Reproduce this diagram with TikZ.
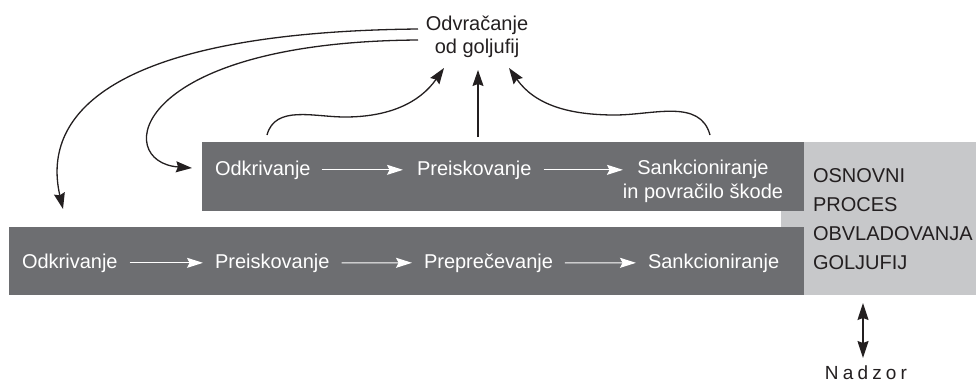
\documentclass[tikz,border=0pt]{standalone}
\usepackage{fontspec}
\setmainfont{Liberation Sans}
\usetikzlibrary{arrows.meta}
\definecolor{boxdark}{HTML}{6D6E71}
\definecolor{boxlight}{HTML}{C7C8CA}
\definecolor{ink}{HTML}{231F20}
\begin{document}
\begin{tikzpicture}[x=0.5pt,y=-0.5pt,
  every node/.style={inner sep=0pt, outer sep=0pt, font=\fontsize{10}{11.5}\selectfont, text=ink},
  panel/.style={anchor=north west, draw=none, minimum width=#1},
  wtext/.style={text=white, anchor=base west},
  warrow/.style={draw=white, line width=0.55pt, -{Stealth[length=8pt,width=5pt,inset=1.3pt]}},
  barrow/.style={draw=ink, line width=0.65pt, -{Stealth[length=8pt,width=5.5pt,inset=1pt]}},
  darrow/.style={draw=ink, line width=0.65pt, {Stealth[length=8.5pt,width=5.5pt,inset=1pt]}-{Stealth[length=8.5pt,width=5.5pt,inset=1pt]}}
]
\useasboundingbox (0,0) rectangle (976,381);

% panels
\node[panel=97.5pt, fill=boxlight, minimum height=76.5pt] (lightbox) at (781,142) {};
\node[panel=301pt, fill=boxdark, minimum height=34.5pt] (topbox) at (202,142) {};
\node[panel=397.5pt, fill=boxdark, minimum height=34pt] (botbox) at (9,227) {};

% top row
\node[wtext] (t1) at (215,175) {Odkrivanje};
\node[wtext] (t2) at (417,175) {Preiskovanje};
\node[text=white, align=center, anchor=base, font=\fontsize{10}{12}\selectfont] (t3) at (703,198) {Sankcioniranje\\in povračilo škode};
\coordinate (t3in) at (t3.west |- t2.east);
\draw[warrow, shorten <=5.5pt, shorten >=7pt] (t1.east) -- (t2.west);
\draw[warrow, shorten <=6pt] (t2.east) -- (t3in);

% bottom row
\node[wtext] (b1) at (22,268) {Odkrivanje};
\node[wtext] (b2) at (215,268) {Preiskovanje};
\node[wtext] (b3) at (424,268) {Preprečevanje};
\node[wtext] (b4) at (648,268) {Sankcioniranje};
\draw[warrow, shorten <=6pt, shorten >=6pt] (b1.east) -- (b2.west);
\draw[warrow, shorten <=6pt, shorten >=6pt] (b2.east) -- (b3.west);
\draw[warrow, shorten <=6pt, shorten >=6pt] (b3.east) -- (b4.west);

% light box text
\node[align=left, anchor=base west, font=\fontsize{10}{14.5}\selectfont] (proc) at (813,269) {OSNOVNI\\PROCES\\OBVLADOVANJA\\GOLJUFIJ};

% deterrence
\node[align=center, anchor=base] (odv) at (477,53) {Odvračanje\\od goljufij};

\coordinate (sOuter) at (418,29);
\coordinate (sInner) at (418,40);
\coordinate (eOuter) at (63,209);
\coordinate (eInner) at (192,168);
\coordinate (u1) at (267,135);
\coordinate (u2) at (478,137);
\coordinate (u3) at (710,135);
\coordinate (v1) at (444,68);
\coordinate (v2) at (478,70);
\coordinate (v3) at (509,68);

\draw[barrow] (sOuter) .. controls (120,32) and (40,110) .. (eOuter);
\draw[barrow] (sInner) .. controls (130,42) and (112,162) .. (eInner);
\draw[barrow] (u1) to[out=75,in=180] (345,117) to[out=0,in=235] (v1);
\draw[barrow] (u2) -- (v2);
\draw[barrow] (u3) to[out=105,in=0] (615,115) to[out=180,in=-55] (v3);

% supervision
\node[anchor=base, font=\fontsize{9.5}{11}\selectfont\addfontfeature{LetterSpace=22}] (nad) at (866,379) {Nadzor};
\coordinate (n1) at (863,303);
\coordinate (n2) at (863,358);
\draw[darrow] (n1) -- (n2);
\end{tikzpicture}
\end{document}
